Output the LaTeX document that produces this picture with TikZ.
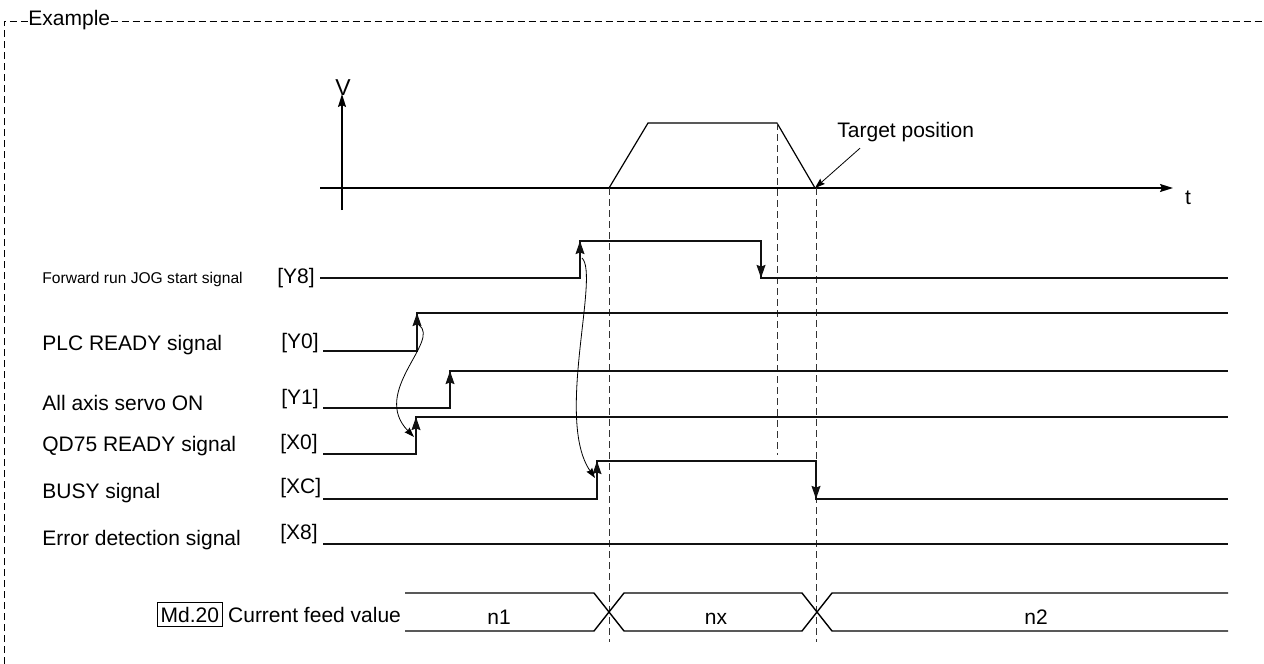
\documentclass[tikz,border=0pt]{standalone}
\usepackage{fontspec}
\setmainfont{Liberation Sans}
\usepackage{xcolor}
\definecolor{WaveBlack}{HTML}{111111}
\definecolor{GuideGray}{HTML}{333333}
\usepackage{tikz}
\usetikzlibrary{positioning,arrows.meta,calc}

\begin{document}
\begin{tikzpicture}[x=0.5pt,y=-0.5pt,
    wave/.style={WaveBlack, line width=0.95pt},
    edgetip/.style={WaveBlack, line width=0.95pt, -{Stealth[length=6.5pt,width=4.4pt,inset=0.8pt]}},
    axisline/.style={line width=0.7pt, -{Stealth[length=6.5pt,width=4pt,inset=1pt]}},
    guide/.style={GuideGray, line width=0.5pt, dash pattern=on 3.5pt off 2pt},
    frameline/.style={line width=0.5pt, dash pattern=on 3.5pt off 2pt},
    linkarrow/.style={line width=0.4pt, -{Stealth[length=5pt,width=3.4pt,inset=0.6pt]}},
    lbl/.style={font=\fontsize{10.5}{12}\selectfont, inner sep=0pt},
    smalllbl/.style={font=\fontsize{7.8}{9}\selectfont, inner sep=0pt}]
    \useasboundingbox (0,0) rectangle (1264,664);

    % frame
    \node[lbl, anchor=west] (title) at (28,20) {Example};
    \coordinate (corner) at (4,21);
    \draw[frameline] (4,664) -- (corner) -- (corner -| title.west);
    \draw[frameline] (corner -| title.east) -- (1264,21);

    % speed profile
    \draw[axisline] (320,188) -- (1173,188);
    \node[lbl, font=\fontsize{11.5}{13}\selectfont] (vlbl) at (343,88) {V};
    \draw[axisline] (342,210) -- (342,94);
    \node[lbl] (tlbl) at (1188,198) {t};
    \draw[line width=0.6pt] (609,188) -- (648,123) -- (777,123) -- (815,188);
    \coordinate (tpos) at (815,188);
    \node[lbl, anchor=west] (target) at (837,132) {Target position};
    \draw[linkarrow] ([xshift=11.5pt,yshift=-3pt]target.south west) -- (tpos);

    % guides
    \draw[guide] (609,188) -- (609,642);
    \draw[guide] (777,123) -- (777,455);
    \draw[guide] (816,188) -- (816,642);

    % signal names
    \node[smalllbl, anchor=base west] (fwdlbl) at (42,283) {Forward run JOG start signal};
    \node[lbl, anchor=base west] (plclbl) at (42,350) {PLC READY signal};
    \node[lbl, anchor=base west] (servolbl) at (42,410) {All axis servo ON};
    \node[lbl, anchor=base west] (qdlbl) at (42,451) {QD75 READY signal};
    \node[lbl, anchor=base west] (busylbl) at (42,498) {BUSY signal};
    \node[lbl, anchor=base west] (errlbl) at (42,545) {Error detection signal};
    \node[lbl, anchor=base west] (y8) at (277,283) {[Y8]};
    \node[lbl, anchor=base west] (y0) at (281,348) {[Y0]};
    \node[lbl, anchor=base west] (y1) at (281,404) {[Y1]};
    \node[lbl, anchor=base west] (x0) at (280,449) {[X0]};
    \node[lbl, anchor=base west] (xc) at (280,493) {[XC]};
    \node[lbl, anchor=base west] (x8) at (280,539) {[X8]};

    % waveforms
    \draw[wave] (320,278) -- (580,278) -- (580,241) -- (761,241) -- (761,278) -- (1228,278);
    \draw[edgetip] (580,278) -- (580,241);
    \draw[edgetip] (761,241) -- (761,278);
    \foreach \lo/\hi/\xr in {351/313/417, 408/371/450, 454/417/416} {
      \draw[wave] (323,\lo) -- (\xr,\lo) -- (\xr,\hi) -- (1228,\hi);
      \draw[edgetip] (\xr,\lo) -- (\xr,\hi);
    }
    \draw[wave] (323,499) -- (597,499) -- (597,461) -- (816,461) -- (816,499) -- (1228,499);
    \draw[edgetip] (597,499) -- (597,461);
    \draw[edgetip] (816,461) -- (816,499);
    \draw[wave] (323,544) -- (1228,544);

    % current feed value
    \node[lbl, draw, line width=0.5pt, inner xsep=1.6pt, inner ysep=2pt, anchor=base west] (md) at (157,622) {Md.20};
    \node[lbl, right=2.5pt of md] (cfv) {Current feed value};
    \draw[line width=0.7pt] (405,593) -- (594,593) -- (624,631) -- (802,631) -- (832,593) -- (1228,593);
    \draw[line width=0.7pt] (405,631) -- (594,631) -- (624,593) -- (802,593) -- (832,631) -- (1228,631);
    \node[lbl, anchor=base] (n1) at (499,624) {n1};
    \node[lbl, anchor=base] (nx) at (716,624) {nx};
    \node[lbl, anchor=base] (n2) at (1036,624) {n2};

    % handshake arrows
    \coordinate (y0mid) at (419,325);
    \coordinate (x0mid) at (414,437);
    \draw[linkarrow] (y0mid) .. controls (441,341) and (370,392) .. (x0mid);
    \coordinate (y8mid) at (582,258);
    \coordinate (xcmid) at (595,478);
    \draw[linkarrow] (y8mid) .. controls (600,275) and (555,420) .. (xcmid);
\end{tikzpicture}
\end{document}
